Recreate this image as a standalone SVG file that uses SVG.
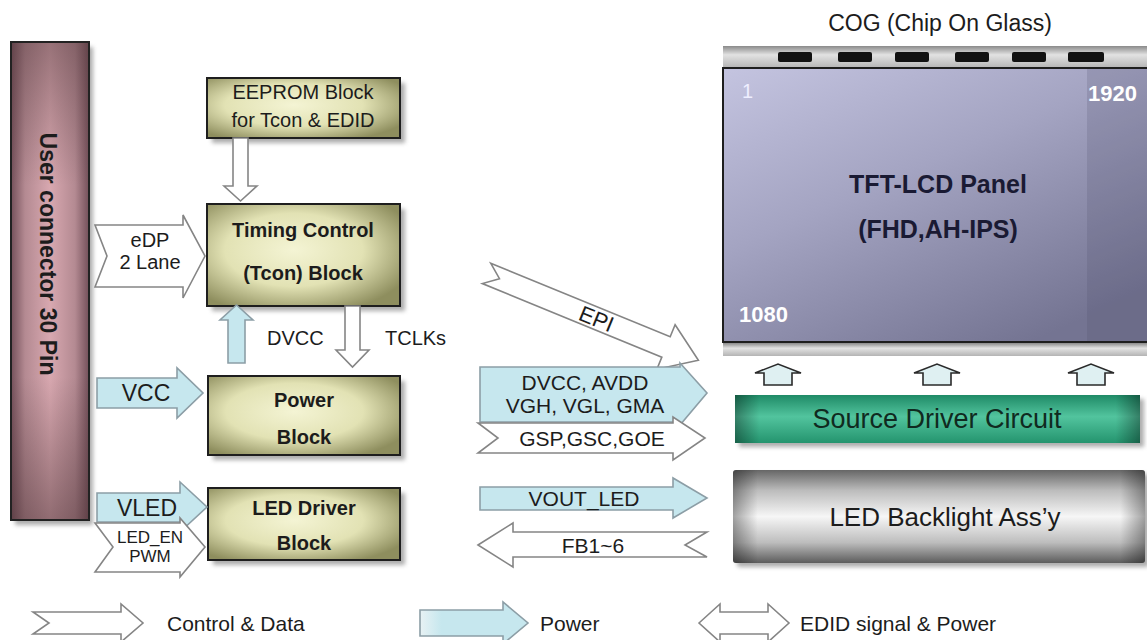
<svg xmlns="http://www.w3.org/2000/svg" width="1147" height="640" viewBox="0 0 1147 640">
<defs>
<style>
text{font-family:"Liberation Sans",Arial,sans-serif;fill:#1c1c1c}
.b{font-weight:bold}
.c{text-anchor:middle}
.hollow{fill:#ffffff;stroke:#858585;stroke-width:1.6;stroke-linejoin:miter}
.pow{fill:#c6e7ee;stroke:#8c9ea6;stroke-width:1.6}
.blk{fill:url(#olive);stroke:#1e1e1e;stroke-width:2}
.shd{fill:#6a6a6a;opacity:.55;filter:url(#blur)}
.chip{fill:#111}
.wt{fill:#ffffff;font-weight:bold}
.up{fill:#dff0f2;stroke:#2a2a2a;stroke-width:1.6}
</style>
<filter id="blur" x="-10%" y="-10%" width="120%" height="120%"><feGaussianBlur stdDeviation="2"/></filter>
<radialGradient id="olive" cx="45%" cy="45%" r="65%">
<stop offset="0" stop-color="#f4f4d4"/>
<stop offset="0.55" stop-color="#e2e2b4"/>
<stop offset="1" stop-color="#8e8e5e"/>
</radialGradient>
<linearGradient id="conn" x1="0" y1="0" x2="1" y2="0">
<stop offset="0" stop-color="#74505a"/>
<stop offset="0.18" stop-color="#b48a92"/>
<stop offset="0.5" stop-color="#d8a8b0"/>
<stop offset="0.82" stop-color="#b48a92"/>
<stop offset="1" stop-color="#74505a"/>
</linearGradient>
<linearGradient id="connv" x1="0" y1="0" x2="0" y2="1">
<stop offset="0" stop-color="#4a3034" stop-opacity=".45"/>
<stop offset="0.3" stop-color="#4a3034" stop-opacity="0"/>
<stop offset="0.7" stop-color="#4a3034" stop-opacity="0"/>
<stop offset="1" stop-color="#4a3034" stop-opacity=".5"/>
</linearGradient>
<linearGradient id="panel" x1="0" y1="0" x2="0.7" y2="1">
<stop offset="0" stop-color="#c4c4e0"/>
<stop offset="0.45" stop-color="#a4a4c2"/>
<stop offset="1" stop-color="#747492"/>
</linearGradient>
<linearGradient id="strip" x1="0" y1="0" x2="0" y2="1">
<stop offset="0" stop-color="#8a8a8a"/>
<stop offset="0.4" stop-color="#e2e2e2"/>
<stop offset="1" stop-color="#b4b4b4"/>
</linearGradient>
<linearGradient id="green" x1="0" y1="0" x2="0" y2="1">
<stop offset="0" stop-color="#1f8a66"/>
<stop offset="0.45" stop-color="#52c49e"/>
<stop offset="1" stop-color="#24946e"/>
</linearGradient>
<linearGradient id="gray" x1="0" y1="0" x2="0" y2="1">
<stop offset="0" stop-color="#666666"/>
<stop offset="0.22" stop-color="#bcbcbc"/>
<stop offset="0.5" stop-color="#f6f6f6"/>
<stop offset="0.78" stop-color="#bdbdbd"/>
<stop offset="1" stop-color="#5c5c5c"/>
</linearGradient>
<linearGradient id="ends" x1="0" y1="0" x2="1" y2="0">
<stop offset="0" stop-color="#000" stop-opacity=".35"/>
<stop offset="0.06" stop-color="#000" stop-opacity="0"/>
<stop offset="0.94" stop-color="#000" stop-opacity="0"/>
<stop offset="1" stop-color="#000" stop-opacity=".35"/>
</linearGradient>
<linearGradient id="powleg" x1="0" y1="0" x2="1" y2="0">
<stop offset="0" stop-color="#e8f2f4"/>
<stop offset="0.2" stop-color="#c6e7ee"/>
<stop offset="1" stop-color="#c6e7ee"/>
</linearGradient>
</defs>
<rect width="1147" height="640" fill="#ffffff"/>

<g id="user-connector">
<rect x="15" y="47" width="78" height="478" class="shd"/>
<rect x="11" y="42" width="78" height="478" fill="url(#conn)"/>
<rect x="11" y="42" width="78" height="478" fill="url(#connv)" stroke="#222" stroke-width="2"/>
<text transform="translate(40,254) rotate(90)" class="b c" font-size="23">User connector  30  Pin</text>
</g>

<g id="eeprom">
<rect x="212" y="83" width="193" height="60" class="shd"/>
<rect x="207" y="78" width="193" height="60" class="blk"/>
<text x="303" y="99" class="c" font-size="20">EEPROM Block</text>
<text x="303" y="127" class="c" font-size="20">for Tcon &amp; EDID</text>
</g>

<g id="tcon">
<rect x="212" y="209" width="193" height="102" class="shd"/>
<rect x="207" y="204" width="193" height="102" class="blk"/>
<text x="303" y="237" class="b c" font-size="20">Timing Control</text>
<text x="303" y="280" class="b c" font-size="20">(Tcon) Block</text>
</g>

<g id="power-block">
<rect x="213" y="381" width="192" height="79" class="shd"/>
<rect x="208" y="376" width="192" height="79" class="blk"/>
<text x="304" y="407" class="b c" font-size="20">Power</text>
<text x="304" y="444" class="b c" font-size="20">Block</text>
</g>

<g id="led-driver">
<rect x="213" y="493" width="192" height="72" class="shd"/>
<rect x="208" y="488" width="192" height="72" class="blk"/>
<text x="304" y="515" class="b c" font-size="20">LED Driver</text>
<text x="304" y="550" class="b c" font-size="20">Block</text>
</g>

<g id="tft-panel">
<rect x="723" y="46" width="430" height="22" fill="url(#strip)"/>
<rect x="778" y="52" width="34" height="10" rx="2" class="chip"/>
<rect x="838" y="52" width="34" height="10" rx="2" class="chip"/>
<rect x="895" y="52" width="34" height="10" rx="2" class="chip"/>
<rect x="955" y="52" width="34" height="10" rx="2" class="chip"/>
<rect x="1012" y="52" width="34" height="10" rx="2" class="chip"/>
<rect x="1068" y="52" width="36" height="10" rx="2" class="chip"/>
<rect x="723" y="68" width="440" height="274" fill="url(#panel)" stroke="#1e1e1e" stroke-width="2"/>
<rect x="1087" y="69" width="60" height="272" fill="#4a4a66" opacity=".18"/>
<rect x="723" y="343" width="430" height="13" fill="url(#strip)"/>
<text x="940" y="31" class="c" font-size="23">COG (Chip On Glass)</text>
<text x="742" y="98" style="fill:#eeeeff" font-size="20">1</text>
<text x="1088" y="101" class="wt" font-size="22">1920</text>
<text x="739" y="322" class="wt" font-size="22">1080</text>
<text x="938" y="193" class="b c" font-size="25" style="fill:#1a1a33">TFT-LCD Panel</text>
<text x="938" y="238" class="b c" font-size="25" style="fill:#1a1a33">(FHD,AH-IPS)</text>
</g>

<g id="source-driver">
<rect x="739" y="399" width="405" height="48" class="shd"/>
<rect x="735" y="395" width="405" height="48" fill="url(#green)"/>
<rect x="735" y="395" width="405" height="48" fill="url(#ends)"/>
<text x="937" y="428" class="c" font-size="27" style="fill:#102a20">Source Driver Circuit</text>
</g>

<g id="led-backlight">
<rect x="737" y="474" width="412" height="93" rx="3" class="shd"/>
<rect x="733" y="470" width="412" height="93" rx="3" fill="url(#gray)"/>
<rect x="733" y="470" width="412" height="93" rx="3" fill="url(#ends)"/>
<text x="945" y="526" class="c" font-size="26">LED Backlight Ass’y</text>
</g>

<g id="connectors">
<polygon class="hollow" points="95,225 183,225 183,215 205,256 183,298 183,287 95,287 107,256"/>
<text x="150" y="247" class="c" font-size="20">eDP</text>
<text x="150" y="269" class="c" font-size="20">2 Lane</text>

<polygon class="pow" points="97,378 177,378 177,368 203,393 177,418 177,408 97,408"/>
<text x="146" y="401" class="c" font-size="23">VCC</text>

<polygon class="pow" points="97,493 180,493 180,482 207,507 180,532 180,522 97,522"/>
<text x="147" y="516" class="c" font-size="23">VLED</text>
<polygon class="hollow" points="95,523 180,523 180,518 205,547 180,577 180,572 95,572 113,547"/>
<text x="150" y="543" class="c" font-size="17">LED_EN</text>
<text x="150" y="562" class="c" font-size="17">PWM</text>

<polygon class="hollow" points="233,138 248,138 248,186 257,186 240.5,201 224,186 233,186"/>
<polygon class="pow" points="228,363 228,320 220,320 236.5,305 253,320 245,320 245,363"/>
<text x="267" y="345" font-size="20">DVCC</text>
<polygon class="hollow" points="345,306 360,306 360,350 369,350 352.5,367 336,350 345,350"/>
<text x="385" y="345" font-size="20">TCLKs</text>

<g transform="translate(493,276) rotate(22.3)">
<polygon class="hollow" points="0,-11 194,-11 194,-24 229,0 194,24 194,11 0,11 14,0" transform="translate(-7,0)"/>
<text x="112" y="8" class="c" font-size="22">EPI</text>
</g>

<polygon class="pow" points="480,367 680,367 680,363 707,393 680,425 680,422 480,422"/>
<text x="585" y="390" class="c" font-size="21">DVCC, AVDD</text>
<text x="585" y="413" class="c" font-size="21">VGH, VGL, GMA</text>
<polygon class="hollow" points="478,423 673,423 673,417 705,438 673,460 673,453 478,453 498,438"/>
<text x="592" y="446" class="c" font-size="21">GSP,GSC,GOE</text>

<polygon class="pow" points="480,487 673,487 673,478 707,498 673,518 673,510 480,510"/>
<text x="584" y="506" class="c" font-size="21">VOUT_LED</text>
<polygon class="hollow" points="478,545 513,523 513,532 707,532 685,545 707,557 513,557 513,567"/>
<text x="593" y="553" class="c" font-size="21">FB1~6</text>

<polygon class="up" points="764,385 764,373 755,373 778,364 801,373 792,373 792,385"/>
<polygon class="up" points="923,385 923,373 914,373 937,364 960,373 951,373 951,385"/>
<polygon class="up" points="1077,385 1077,373 1068,373 1091,364 1114,373 1105,373 1105,385"/>
</g>

<g id="legend">
<polygon class="hollow" points="33,612 121,612 121,604 143,623 121,642 121,634 33,634 49,623"/>
<text x="167" y="631" font-size="21">Control &amp; Data</text>
<polygon class="pow" style="fill:url(#powleg)" points="420,610 503,610 503,602 528,623 503,644 503,636 420,636"/>
<text x="540" y="631" font-size="21">Power</text>
<polygon class="hollow" points="699,623 720,604 720,612 768,612 768,604 789,623 768,642 768,634 720,634 720,642"/>
<text x="800" y="631" font-size="21">EDID signal &amp; Power</text>
</g>
</svg>
